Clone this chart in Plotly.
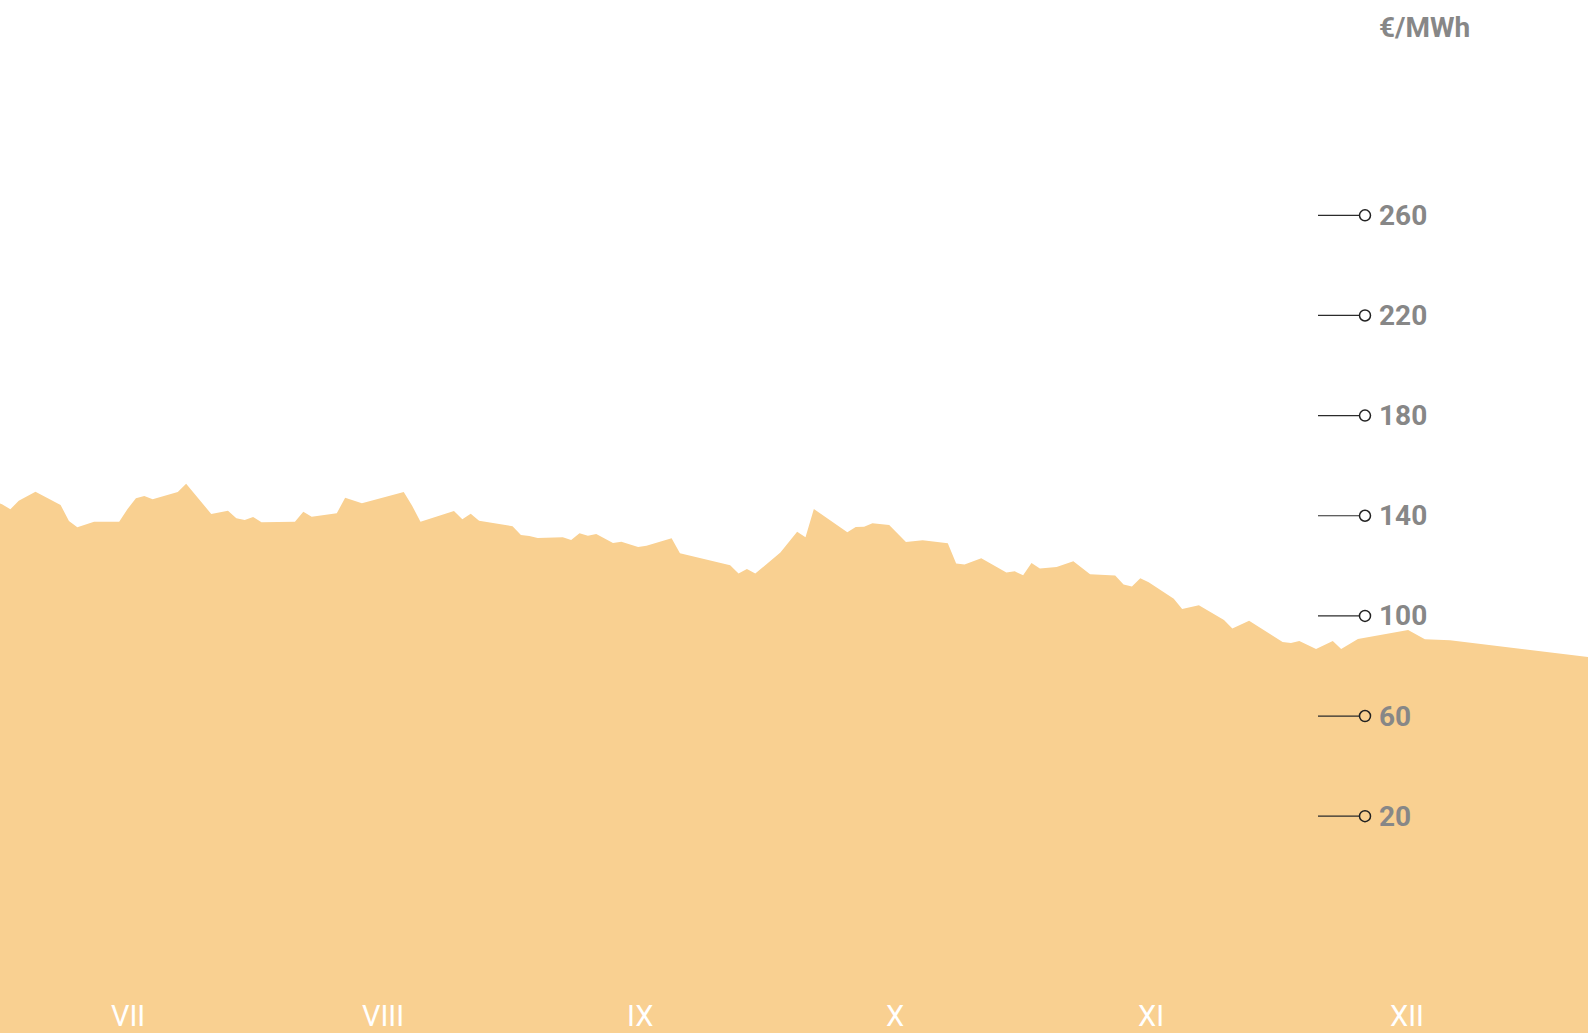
import plotly.graph_objects as go

# ---- data -------------------------------------------------------------
dates = [
    "2023-06-30", "2023-07-01", "2023-07-02", "2023-07-03", "2023-07-05",
    "2023-07-08", "2023-07-09", "2023-07-10", "2023-07-12", "2023-07-15",
    "2023-07-16", "2023-07-17", "2023-07-18", "2023-07-19", "2023-07-22",
    "2023-07-23", "2023-07-26", "2023-07-28", "2023-07-29", "2023-07-30",
    "2023-07-31", "2023-08-01", "2023-08-05", "2023-08-06", "2023-08-07",
    "2023-08-10", "2023-08-11", "2023-08-13", "2023-08-18", "2023-08-19",
    "2023-08-20", "2023-08-24", "2023-08-25", "2023-08-26", "2023-08-27",
    "2023-08-31", "2023-09-01", "2023-09-02", "2023-09-03", "2023-09-06",
    "2023-09-07", "2023-09-08", "2023-09-09", "2023-09-10", "2023-09-12",
    "2023-09-13", "2023-09-15", "2023-09-16", "2023-09-19", "2023-09-20",
    "2023-09-26", "2023-09-27", "2023-09-28", "2023-09-29", "2023-10-02",
    "2023-10-04", "2023-10-05", "2023-10-06", "2023-10-10", "2023-10-11",
    "2023-10-12", "2023-10-13", "2023-10-15", "2023-10-17", "2023-10-19",
    "2023-10-22", "2023-10-23", "2023-10-24", "2023-10-26", "2023-10-29",
    "2023-10-30", "2023-10-31", "2023-11-01", "2023-11-02", "2023-11-04",
    "2023-11-05", "2023-11-06", "2023-11-08", "2023-11-11", "2023-11-12",
    "2023-11-13", "2023-11-14", "2023-11-15", "2023-11-18", "2023-11-19",
    "2023-11-21", "2023-11-24", "2023-11-25", "2023-11-27", "2023-12-01",
    "2023-12-02", "2023-12-03", "2023-12-05", "2023-12-07", "2023-12-08",
    "2023-12-10", "2023-12-16", "2023-12-18", "2023-12-21", "2024-01-07",
]
prices = [
    145.8, 144.6, 142.6, 146.0, 149.6,
    144.3, 137.9, 135.4, 137.6, 137.6,
    142.7, 147.0, 147.9, 146.6, 149.5,
    152.8, 140.7, 142.0, 139.0, 138.3,
    139.5, 137.4, 137.6, 141.6, 139.6,
    141.0, 147.2, 145.0, 149.5, 144.0,
    137.6, 141.9, 138.6, 140.8, 138.0,
    135.8, 132.3, 131.9, 131.1, 131.4,
    130.3, 133.0, 132.0, 132.7, 129.1,
    129.6, 127.5, 128.0, 131.0, 125.0,
    120.2, 116.9, 118.7, 116.9, 125.3,
    133.6, 131.4, 142.7, 133.4, 135.5,
    135.6, 137.0, 136.3, 129.5, 130.2,
    129.0, 120.9, 120.5, 123.0, 117.3,
    117.8, 116.2, 121.1, 118.9, 119.5,
    120.6, 121.8, 116.6, 116.1, 112.5,
    111.7, 115.0, 113.4, 106.8, 102.8,
    104.3, 98.4, 95.0, 98.1, 89.6,
    89.2, 90.0, 86.8, 90.0, 86.8,
    90.8, 94.4, 90.7, 90.3, 83.4,
]
floor_value = -100  # area floor, below the visible range

month_tick_dates = ["2023-07-16", "2023-08-15 12:00", "2023-09-15 06:00",
                    "2023-10-15 18:00", "2023-11-15 06:00", "2023-12-15 21:00"]
month_labels = ["VII", "VIII", "IX", "X", "XI", "XII"]

y_ticks = [20, 60, 100, 140, 180, 220, 260]
y_tick_labels = ["20", "60", "100", "140", "180", "220", "260"]
unit_label = "€/MWh"

# ---- style ------------------------------------------------------------
FILL = "rgb(249,208,145)"
GREY = "#878787"
FONT = "Roboto, Liberation Sans Narrow, sans-serif"
W, H = 1588, 1033

fig = go.Figure()
fig.add_trace(go.Scatter(x=dates, y=[floor_value] * len(dates), mode="lines",
                         line=dict(width=0, color=FILL), hoverinfo="skip",
                         showlegend=False))
fig.add_trace(go.Scatter(x=dates, y=prices, mode="lines", fill="tonexty",
                         fillcolor=FILL, line=dict(width=0, color=FILL),
                         showlegend=False))

shapes = []
annotations = []
line_x0, line_x1, circ_x, label_x = 1318 / W, 1359.5 / W, 1365 / W, 1377 / W
for v, t in zip(y_ticks, y_tick_labels):
    shapes.append(dict(type="line", xref="paper", yref="y", x0=line_x0, x1=line_x1,
                       y0=v, y1=v, line=dict(color="#2b2b2b", width=1.2)))
    shapes.append(dict(type="circle", xref="paper", yref="y",
                       xsizemode="pixel", ysizemode="pixel",
                       xanchor=circ_x, yanchor=v, x0=-5.5, x1=5.5, y0=-5.5, y1=5.5,
                       line=dict(color="#222222", width=1.5), fillcolor="rgba(0,0,0,0)"))
    annotations.append(dict(text=t, xref="paper", yref="y", x=label_x, y=v,
                            xanchor="left", yanchor="middle", showarrow=False,
                            font=dict(family=FONT, size=28, color=GREY, weight="bold")))

annotations.append(dict(text=unit_label, xref="paper", yref="paper", x=label_x,
                        y=(H - 27) / H, xanchor="left", yanchor="middle", showarrow=False,
                        font=dict(family=FONT, size=28, color=GREY, weight="bold")))

for d, m in zip(month_tick_dates, month_labels):
    annotations.append(dict(text=m, xref="x", yref="paper", x=d, y=(H - 1016) / H,
                            xanchor="center", yanchor="middle", showarrow=False,
                            font=dict(family=FONT, size=29, color="white")))

fig.update_layout(
    width=W, height=H,
    margin=dict(l=0, r=0, t=0, b=0),
    paper_bgcolor="white", plot_bgcolor="white",
    xaxis=dict(visible=False, range=["2023-06-30 18:16", "2024-01-06 11:46"]),
    yaxis=dict(visible=False, range=[-66.6, 346.0]),
    shapes=shapes, annotations=annotations,
    hovermode=False,
)

fig.write_html("out.html", config={"displayModeBar": False},
               post_script="document.body.style.margin='0';")
